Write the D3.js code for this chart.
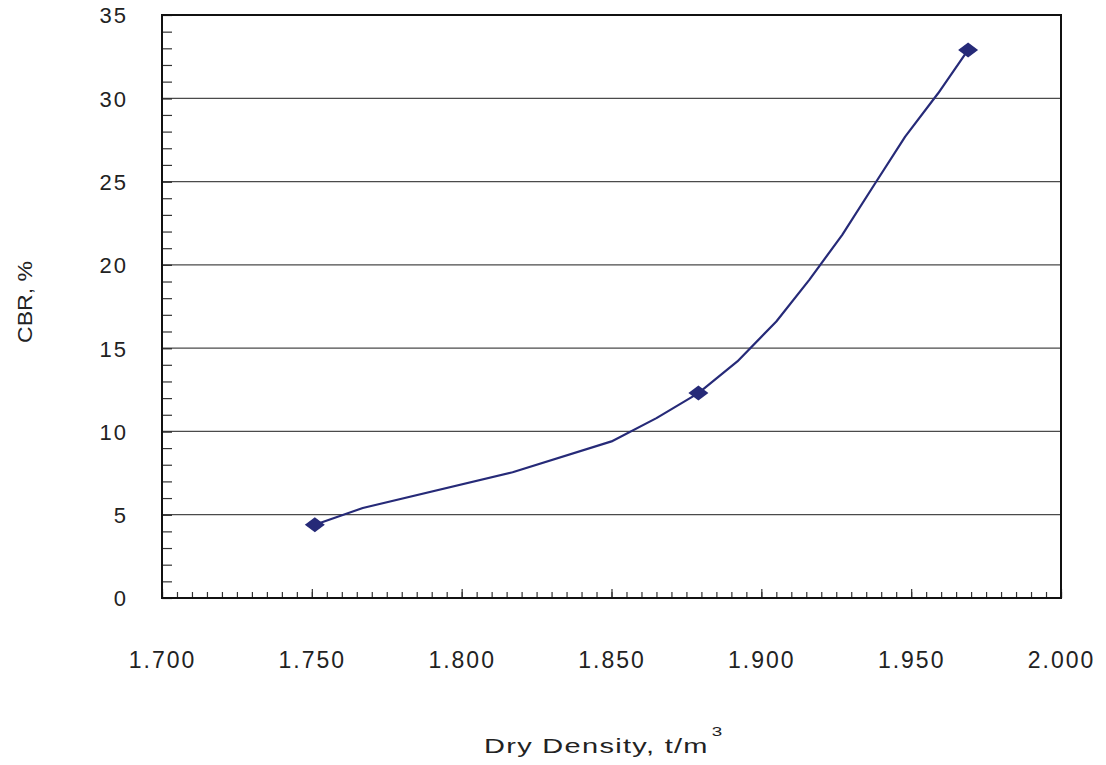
<!DOCTYPE html>
<html lang="en">
<head>
    <meta charset="utf-8">
    <title>CBR vs Dry Density</title>
    <script src="https://d3js.org/d3.v7.min.js"></script>
    <style>
        body {
            margin: 0;
            background: white;
            font-family: "Liberation Sans", Arial, Helvetica, sans-serif;
        }
        .lbl {
            font-size: 22px;
            letter-spacing: 2px;
            fill: #222;
        }
    </style>
</head>
<body>
<script>

    // fitted curve vertices
    var curveDensity = [1.751, 1.767, 1.817, 1.850, 1.865, 1.879, 1.892, 1.905, 1.916, 1.927, 1.938, 1.948, 1.959, 1.969];
    var curveCbr     = [4.4,   5.4,   7.55,  9.4,   10.8,  12.3,  14.2,  16.6,  19.1,  21.8,  24.9,  27.7,  30.3,  32.9];

    // test points (diamond markers)
    var testDensity = [1.751, 1.879, 1.969];
    var testCbr     = [4.4, 12.3, 32.9];

    var xTicks = [1.700, 1.750, 1.800, 1.850, 1.900, 1.950, 2.000];
    var yTicks = [0, 5, 10, 15, 20, 25, 30, 35];

    var w = 1106;
    var h = 765;
    var padL = 162, padR = 1061, padT = 15, padB = 598;

    var svg = d3.select("body")
        .append("svg")
        .attr("width", w)
        .attr("height", h);

    var xScale = d3.scaleLinear()
        .domain([1.7, 2.0])
        .range([padL, padR]);

    var yScale = d3.scaleLinear()
        .domain([0, 35])
        .range([padB, padT]);

    //horizontal grid lines
    svg.selectAll("line.grid")
        .data(yTicks.filter(function(d){ return d > 0 && d < 35; }))
        .enter()
        .append("line")
        .attr("class", "grid")
        .attr("x1", padL)
        .attr("x2", padR)
        .attr("y1", function(d){ return yScale(d); })
        .attr("y2", function(d){ return yScale(d); })
        .attr("stroke", "#4a4a4a")
        .attr("stroke-width", 1.2);

    //minor y ticks, every 1 unit, pointing inward
    var yMinor = d3.axisLeft(yScale)
        .tickValues(d3.range(1, 35, 1))
        .tickSize(-10)
        .tickFormat("");
    svg.append("g")
        .attr("transform", "translate(" + padL + ",0)")
        .call(yMinor)
        .call(function(g){ g.select(".domain").remove(); })
        .selectAll("line").attr("stroke", "#333").attr("stroke-width", 1.2);

    //minor x ticks, every 0.005, pointing up
    var xMinor = d3.axisBottom(xScale)
        .tickValues(d3.range(0, 61).map(function(i){ return 1.7 + i * 0.005; }))
        .tickSize(-6)
        .tickFormat("");
    svg.append("g")
        .attr("transform", "translate(0," + padB + ")")
        .call(xMinor)
        .call(function(g){ g.select(".domain").remove(); })
        .selectAll("line").attr("stroke", "#333").attr("stroke-width", 1.2);

    //major x ticks + labels
    var xAxis = d3.axisBottom(xScale)
        .tickValues(xTicks)
        .tickSize(-9)
        .tickPadding(60)
        .tickFormat(d3.format(".3f"));
    svg.append("g")
        .attr("transform", "translate(0," + padB + ")")
        .call(xAxis)
        .call(function(g){ g.select(".domain").remove(); })
        .call(function(g){ g.selectAll("line").attr("stroke", "#333").attr("stroke-width", 1.2); })
        .selectAll("text")
        .attr("class", "lbl")
        .attr("font-family", null)
        .attr("dy", null)
        .attr("y", 70)
        .style("font-size", "23px");

    //y labels
    var yAxis = d3.axisLeft(yScale)
        .tickValues(yTicks)
        .tickSize(-10)
        .tickPadding(34);
    svg.append("g")
        .attr("transform", "translate(" + padL + ",0)")
        .call(yAxis)
        .call(function(g){ g.select(".domain").remove(); })
        .call(function(g){ g.selectAll("line").attr("stroke", "#333").attr("stroke-width", 1.2); })
        .selectAll("text")
        .attr("class", "lbl")
        .attr("font-family", null)
        .attr("dy", "0.36em");

    //plot frame
    svg.append("rect")
        .attr("x", padL)
        .attr("y", padT)
        .attr("width", padR - padL)
        .attr("height", padB - padT)
        .attr("fill", "none")
        .attr("stroke", "#111")
        .attr("stroke-width", 2);

    //curve
    var curve = curveDensity.map(function(d, i){ return [d, curveCbr[i]]; });
    var line = d3.line()
        .x(function(d){ return xScale(d[0]); })
        .y(function(d){ return yScale(d[1]); });

    svg.append("path")
        .datum(curve)
        .attr("d", line)
        .attr("fill", "none")
        .attr("stroke", "#262a78")
        .attr("stroke-width", 2.2)
        .attr("stroke-linejoin", "round");

    //diamond markers
    svg.selectAll("path.pt")
        .data(testDensity)
        .enter()
        .append("path")
        .attr("class", "pt")
        .attr("d", "M-10,0L0,-7.5L10,0L0,7.5Z")
        .attr("transform", function(d, i){
            return "translate(" + xScale(d) + "," + yScale(testCbr[i]) + ")";
        })
        .attr("fill", "#262a78");

    //axis titles (the original text is stretched wide)
    var xTitle = svg.append("text")
        .attr("class", "lbl")
        .attr("transform", "translate(484,753) scale(1.45,1)")
        .style("font-size", "20px")
        .style("letter-spacing", "0.9px");
    xTitle.append("tspan").text("Dry Density, t/m");
    xTitle.append("tspan").attr("dx", 2).attr("dy", -17).style("font-size", "13px").text("3");

    svg.append("text")
        .attr("class", "lbl")
        .attr("transform", "translate(32,302) rotate(-90) scale(1.15,1)")
        .attr("text-anchor", "middle")
        .style("font-size", "20px")
        .style("letter-spacing", "0px")
        .text("CBR, %");

</script>
</body>
</html>
